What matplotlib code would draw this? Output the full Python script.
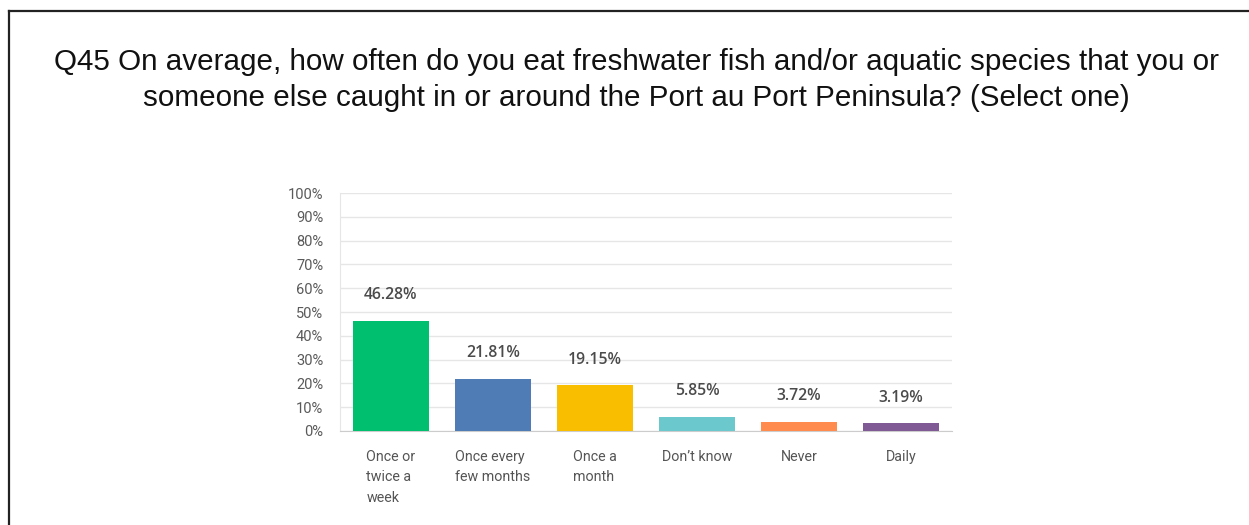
import matplotlib.pyplot as plt
from matplotlib.lines import Line2D
import numpy as np

categories = ["Once or\ntwice a\nweek", "Once every\nfew months", "Once a\nmonth",
              "Don’t know", "Never", "Daily"]
values = [46.28, 21.81, 19.15, 5.85, 3.72, 3.19]
colors = ["#00bf6f", "#507cb6", "#f9be00", "#6bc8cd", "#ff8b4f", "#7f5a95"]
yticks = list(range(0, 101, 10))

W, H = 1249, 525
fig = plt.figure(figsize=(W / 100, H / 100), dpi=100)
fig.patch.set_facecolor("white")

# frame on top and left edge
fig.add_artist(Line2D([8.5 / W, 8.5 / W], [0, 1 - 10.5 / H], color="#222222", lw=1.6,
                      transform=fig.transFigure))
fig.add_artist(Line2D([8.5 / W, 1], [1 - 10.5 / H, 1 - 10.5 / H], color="#222222", lw=1.6,
                      transform=fig.transFigure))

fig.text(636 / W, 1 - 80 / H,
         "Q45 On average, how often do you eat freshwater fish and/or aquatic species that you or\n"
         "someone else caught in or around the Port au Port Peninsula? (Select one)",
         ha="center", va="center", fontsize=21.3, family="Liberation Sans",
         color="#111111", linespacing=1.37)

ax = fig.add_axes([340 / W, 1 - 431 / H, 612 / W, 238 / H])
x = np.arange(len(categories))
ax.bar(x, values, width=0.74, color=colors, zorder=3)

for xi, v in zip(x, values):
    ax.annotate(f"{v:.2f}%", (xi, v), xytext=(0, 18.5), textcoords="offset points",
                ha="center", va="center", fontsize=11.3, fontweight=600,
                color="#4b4b4b", family="Open Sans")

ax.set_xlim(-0.5, len(categories) - 0.5)
ax.set_ylim(0, 100)
ax.set_yticks(yticks)
ax.set_yticklabels([f"{t}%" for t in yticks], fontsize=10.5, color="#5a5a5a", family="Roboto")
ax.set_xticks(x)
ax.set_xticklabels(categories, fontsize=10.3, color="#555555", family="Roboto",
                   linespacing=1.58, va="top", ha="center", multialignment="left")
ax.tick_params(axis="x", length=0, pad=13.5)
ax.tick_params(axis="y", length=0, pad=12)
for lbl in ax.get_yticklabels():
    lbl.set_horizontalalignment("right")

ax.grid(axis="y", color="#e6e6e6", lw=1, zorder=0)
for s in ["top", "right"]:
    ax.spines[s].set_visible(False)
ax.spines["left"].set_color("#e6e6e6")
ax.spines["bottom"].set_color("#cccccc")

fig.savefig("out.png", dpi=100)
